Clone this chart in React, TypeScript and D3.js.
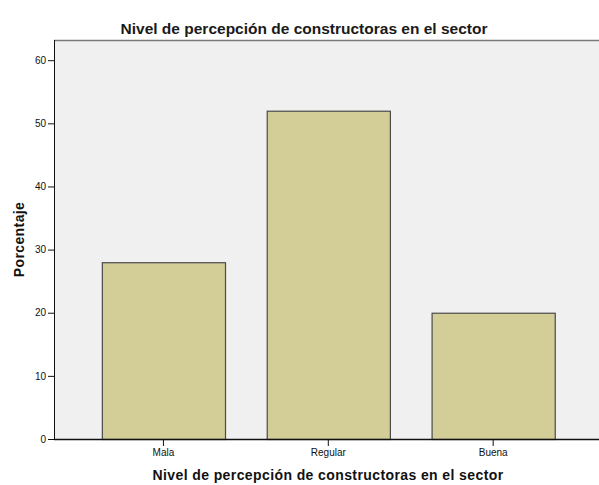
import React, { useEffect, useRef } from 'react';
import * as d3 from 'd3';

const categories = ['Mala', 'Regular', 'Buena'];
const values = [28, 52, 20];
const yTicks = [0, 10, 20, 30, 40, 50, 60];
const title = 'Nivel de percepción de constructoras en el sector';
const xTitle = 'Nivel de percepción de constructoras en el sector';
const yTitle = 'Porcentaje';

const W = 599;
const H = 485;

export default function App() {
  const svgRef = useRef<SVGSVGElement>(null);

  useEffect(() => {
    if (!svgRef.current) return;
    const svg = d3.select(svgRef.current);
    svg.selectAll('*').remove();

    const plot = { left: 54, top: 40, right: 600, bottom: 439 };
    const font = '"Liberation Sans", Arial, sans-serif';

    const y = d3.scaleLinear().domain([0, 63.2]).range([plot.bottom, plot.top]);
    const x = d3.scaleBand<string>()
      .domain(categories)
      .range([81, 575.6])
      .paddingInner(0.253)
      .paddingOuter(0.1265);

    // plot background
    svg.append('rect')
      .attr('x', plot.left).attr('y', plot.top)
      .attr('width', plot.right - plot.left).attr('height', plot.bottom - plot.top)
      .attr('fill', '#f0f0f0');

    svg.append('line')
      .attr('x1', plot.left).attr('x2', plot.right)
      .attr('y1', plot.top + 0.5).attr('y2', plot.top + 0.5)
      .attr('stroke', '#7a7a7a').attr('stroke-width', 1.5);

    // bars
    svg.append('g')
      .selectAll('rect')
      .data(values)
      .join('rect')
      .attr('x', (d, i) => x(categories[i])! + 0.5)
      .attr('y', d => y(d) + 0.5)
      .attr('width', x.bandwidth())
      .attr('height', d => plot.bottom - y(d))
      .attr('fill', '#d3ce97')
      .attr('stroke', '#4a4a4a')
      .attr('stroke-width', 1.2);

    // y axis
    const yAxis = svg.append('g')
      .attr('transform', `translate(${plot.left},0)`)
      .call(d3.axisLeft(y).tickValues(yTicks).tickSize(6).tickPadding(2).tickSizeOuter(0));
    yAxis.select('.domain').attr('stroke', '#111').attr('d', `M0.5,${plot.top}V${plot.bottom}`);
    yAxis.selectAll('.tick line').attr('stroke', '#111');
    yAxis.selectAll('.tick text')
      .style('font-family', font).style('font-size', '10px').attr('fill', '#111');

    // x axis
    const xAxis = svg.append('g')
      .attr('transform', `translate(0,${plot.bottom})`)
      .call(d3.axisBottom(x).tickSize(7).tickPadding(3).tickSizeOuter(0));
    xAxis.select('.domain').attr('stroke', '#111').attr('stroke-width', 1.3)
      .attr('d', `M${plot.left},0.5H${plot.right}`);
    xAxis.selectAll('.tick line').attr('stroke', '#111');
    xAxis.selectAll('.tick text')
      .style('font-family', font).style('font-size', '10px').attr('fill', '#111');

    // titles
    svg.append('text')
      .attr('x', 304).attr('y', 34)
      .attr('text-anchor', 'middle')
      .style('font-family', font).style('font-size', '15.5px').style('font-weight', 'bold')
      .attr('fill', '#1a1a1a')
      .text(title);

    svg.append('text')
      .attr('x', 328).attr('y', 480)
      .attr('text-anchor', 'middle')
      .style('font-family', font).style('font-size', '14px').style('font-weight', 'bold')
      .style('letter-spacing', '0.4px')
      .attr('fill', '#111')
      .text(xTitle);

    svg.append('text')
      .attr('transform', `translate(24,${(plot.top + plot.bottom) / 2}) rotate(-90)`)
      .attr('text-anchor', 'middle')
      .style('font-family', font).style('font-size', '14px').style('font-weight', 'bold')
      .style('letter-spacing', '0.4px')
      .attr('fill', '#111')
      .text(yTitle);
  }, []);

  return (
    <div style={{ position: 'fixed', left: 0, top: 0, width: W, height: H, background: '#fff' }}>
      <svg ref={svgRef} width={W} height={H} style={{ display: 'block' }} />
    </div>
  );
}
